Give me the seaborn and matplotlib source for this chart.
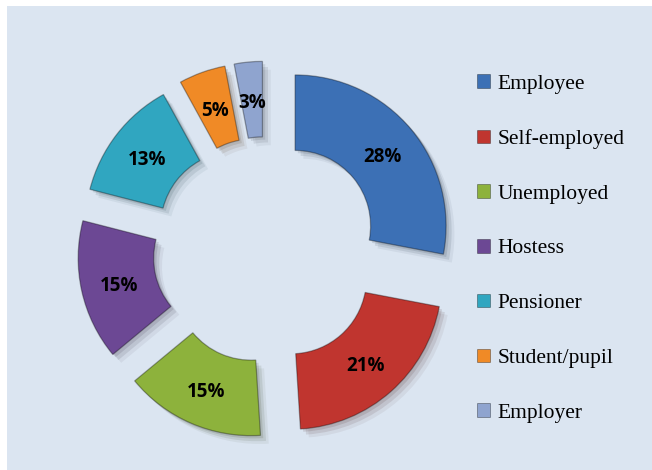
import matplotlib
matplotlib.use("Agg")
import matplotlib.pyplot as plt
import matplotlib.patheffects as pe
from matplotlib.patches import Rectangle
import seaborn as sns

categories = ['Employee', 'Self-employed', 'Unemployed', 'Hostess',
              'Pensioner', 'Student/pupil', 'Employer']
shares = [28, 21, 15, 15, 13, 5, 3]
colors = ['#3c70b5', '#c0352f', '#8db23c', '#6c4894',
          '#30a6c0', '#f08a26', '#8fa4cf']

W, H, DPI = 652, 470, 100
# pie centre and outer radius in pixels (from top-left)
CX, CY, R = 266, 250, 151


def main():
    sns.set_theme(style="white")
    fig = plt.figure(figsize=(W / DPI, H / DPI), dpi=DPI, facecolor='white')
    fig.patches.append(Rectangle((7 / W, 0), 1 - 7 / W, 1 - 6 / H,
                                 transform=fig.transFigure,
                                 facecolor='#dbe5f1', edgecolor='none', zorder=-10))

    ax = fig.add_axes([0, 0, 1, 1])
    ax.patch.set_alpha(0)
    wedges, texts, autotexts = ax.pie(
        shares, colors=colors, startangle=90, counterclock=False,
        explode=[0.25] * len(shares),
        wedgeprops=dict(width=0.5, edgecolor='#00000055', linewidth=0.9),
        autopct='%d%%', pctdistance=0.75, textprops=dict(color='black'))
    for w in wedges:
        # soft drop shadow like the original
        w.set_path_effects([pe.SimplePatchShadow(offset=(2, -2), alpha=0.12),
                            pe.SimplePatchShadow(offset=(4, -4), alpha=0.10),
                            pe.SimplePatchShadow(offset=(6, -6), alpha=0.06),
                            pe.Normal()])
    for t in autotexts:
        t.set_family(['Open Sans', 'DejaVu Sans'])
        t.set_fontweight('bold')
        t.set_fontsize(13.5)
        x, y = t.get_position()
        t.set_position((x, y - 3 / R))

    ax.set_xlim(-CX / R, (W - CX) / R)
    ax.set_ylim(-(H - CY) / R, CY / R)
    ax.set_aspect('auto')

    handles = [Rectangle((0, 0), 1, 1, facecolor=c, edgecolor='#00000060', linewidth=0.6)
               for c in colors]
    leg = fig.legend(handles, categories, loc='upper left',
                     bbox_to_anchor=(458 / W, 1 - 55 / H), frameon=False,
                     prop={'family': 'Liberation Serif', 'size': 15.5},
                     handlelength=0.6, handleheight=0.6, handletextpad=0.35,
                     labelspacing=1.64)
    for t in leg.get_texts():
        t.set_color('black')

    fig.savefig('out.png', dpi=DPI, facecolor='white')


if __name__ == "__main__":
    main()
